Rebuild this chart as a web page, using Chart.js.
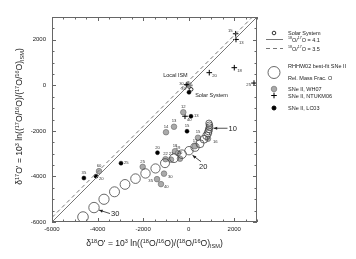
<!DOCTYPE html>
<html>
<head>
<meta charset="utf-8">
<script src="https://cdn.jsdelivr.net/npm/chart.js@4.4.1/dist/chart.umd.min.js"></script>
<style>
  html, body { margin: 0; padding: 0; background: #fff; }
</style>
</head>
<body>
<canvas id="chart" width="356" height="259"></canvas>
<script>
// tick labels
const xTickLabels = [-6000, -4000, -2000, 0, 2000];
const yTickLabels = [-6000, -4000, -2000, 0, 2000];

// 18O/17O reference lines (d18, d17)
const ratio41X = [-6000, 3000];
const ratio41Y = [-6000, 3000];
const ratio35X = [-6000, 2800];
const ratio35Y = [-5800, 3000];

// RHHW02 best-fit SNe II (open circles), rel. mass fraction of O
const rhhwX = [892, 914, 914, 892, 870, 848, 782, 673, 497, 278, 14, -293, -644, -1039, -1456, -1895, -2334, -2795, -3256, -3717, -4156, -4639];
const rhhwY = [-1665, -1752, -1840, -1928, -2015, -2103, -2212, -2366, -2563, -2716, -2869, -3023, -3198, -3417, -3649, -3868, -4096, -4350, -4674, -5002, -5366, -5782];
const rhhwOFrac = [0.064, 0.066, 0.068, 0.07, 0.072, 0.074, 0.076, 0.078, 0.08, 0.082, 0.084, 0.086, 0.088, 0.09, 0.092, 0.094, 0.096, 0.098, 0.1, 0.102, 0.104, 0.106];

// SNe II, WH07 (grey circles)
const wh07Mass = ['12', '13', '14', '15', '16', '17', '18', '19', '20', '21', '22', '25', '30', '35', '40', '60'];
const wh07X = [-236, -644, -995, 409, 848, 278, -600, -469, -381, -776, -1017, -2018, -1083, -1390, -1215, -3937];
const wh07Y = [-1183, -1818, -2059, -2300, -2344, -2672, -2891, -2979, -3220, -3263, -3242, -3579, -3877, -4118, -4337, -3767];

// SNe II, NTUKM06 (plus)
const ntukmMass = ['15', '13', '18', '20', '25', '30', '40'];
const ntukmX = [2064, 2078, 2003, 905, 2868, -80, -161];
const ntukmY = [2264, 2014, 775, 556, 100, 30, -1358];

// SNe II, LC03 (black dots)
const lc03Mass = ['13', '15', '20', '25', '20', '35', '30'];
const lc03X = [102, -73, -1369, -2971, -4068, -4600, 14];
const lc03Y = [-1358, -2015, -2957, -3417, -3986, -4070, -307];

// reference compositions
const solarX = [110];
const solarY = [-177];
const ismX = [0];
const ismY = [0];

const FONT = "'Liberation Sans', Arial, sans-serif";
const INK = '#222';

function pts(xs, ys) {
    return xs.map((x, i) => ({x: x, y: ys[i]}));
}

// draw text with superscript / subscript runs
function richWidth(ctx, runs, fs) {
    let w = 0;
    runs.forEach(([t, k]) => {
        ctx.font = (k === 'n' ? fs : fs * 0.65) + 'px ' + FONT;
        w += ctx.measureText(t).width;
    });
    return w;
}
function drawRich(ctx, runs, x, y, fs, align) {
    let w = richWidth(ctx, runs, fs);
    let cx = align === 'center' ? x - w / 2 : x;
    ctx.textBaseline = 'alphabetic';
    ctx.textAlign = 'left';
    runs.forEach(([t, k]) => {
        let size = k === 'n' ? fs : fs * 0.65;
        let dy = k === 'sup' ? -fs * 0.4 : (k === 'sub' ? fs * 0.22 : 0);
        ctx.font = size + 'px ' + FONT;
        ctx.fillText(t, cx, y + dy);
        cx += ctx.measureText(t).width;
    });
}

function arrow(ctx, x1, y1, x2, y2) {
    let a = Math.atan2(y2 - y1, x2 - x1);
    ctx.beginPath();
    ctx.moveTo(x1, y1);
    ctx.lineTo(x2, y2);
    ctx.stroke();
    ctx.beginPath();
    ctx.moveTo(x2, y2);
    ctx.lineTo(x2 - 4 * Math.cos(a - 0.4), y2 - 4 * Math.sin(a - 0.4));
    ctx.lineTo(x2 - 4 * Math.cos(a + 0.4), y2 - 4 * Math.sin(a + 0.4));
    ctx.closePath();
    ctx.fill();
}

const xTitle = [['δ', 'n'], ['18', 'sup'], ["O' = 10", 'n'], ['3', 'sup'], [' ln((', 'n'], ['18', 'sup'], ['O/', 'n'], ['16', 'sup'],
    ['O)/(', 'n'], ['18', 'sup'], ['O/', 'n'], ['16', 'sup'], ['O)', 'n'], ['ISM', 'sub'], [')', 'n']];
const yTitle = [['δ', 'n'], ['17', 'sup'], ["O' = 10", 'n'], ['3', 'sup'], [' ln((', 'n'], ['17', 'sup'], ['O/', 'n'], ['16', 'sup'],
    ['O)/(', 'n'], ['17', 'sup'], ['O/', 'n'], ['16', 'sup'], ['O)', 'n'], ['ISM', 'sub'], [')', 'n']];

// frame, inward ticks, titles, point labels, arrows and legend
const decor = {
    id: 'decor',
    afterDraw(chart) {
        const ctx = chart.ctx;
        const a = chart.chartArea;
        const xs = chart.scales.x, ys = chart.scales.y;
        ctx.save();
        ctx.strokeStyle = '#666';
        ctx.lineWidth = 1;
        ctx.strokeRect(a.left + 0.5, a.top + 0.5, a.right - a.left - 1, a.bottom - a.top - 1);
        ctx.beginPath();
        xs.ticks.forEach(t => {
            let p = Math.round(xs.getPixelForValue(t.value)) + 0.5;
            let len = xTickLabels.includes(t.value) ? 4 : 2.5;
            ctx.moveTo(p, a.bottom); ctx.lineTo(p, a.bottom - len);
            ctx.moveTo(p, a.top); ctx.lineTo(p, a.top + len);
        });
        ys.ticks.forEach(t => {
            let p = Math.round(ys.getPixelForValue(t.value)) + 0.5;
            let len = yTickLabels.includes(t.value) ? 4 : 2.5;
            ctx.moveTo(a.left, p); ctx.lineTo(a.left + len, p);
            ctx.moveTo(a.right, p); ctx.lineTo(a.right - len, p);
        });
        ctx.stroke();

        // axis titles
        ctx.fillStyle = INK;
        drawRich(ctx, xTitle, (a.left + a.right) / 2, 246, 8.6, 'center');
        ctx.save();
        ctx.translate(22, (a.top + a.bottom) / 2 - 3);
        ctx.rotate(-Math.PI / 2);
        drawRich(ctx, yTitle, 0, 0, 8.6, 'center');
        ctx.restore();

        // mass labels next to points
        ctx.font = '4.2px ' + FONT;
        ctx.fillStyle = '#333';
        const lab = (dsIndex, names, dx, dy, align, over) => {
            chart.getDatasetMeta(dsIndex).data.forEach((el, i) => {
                let o = (over && over[i]) || [dx, dy, align];
                ctx.textAlign = o[2];
                ctx.textBaseline = 'middle';
                ctx.fillText(names[i], el.x + o[0], el.y + o[1]);
            });
        };
        lab(3, wh07Mass, 0, -5.5, 'center', {4: [5, 3, 'left'], 12: [4, 3, 'left'], 13: [-4, 2, 'right'], 14: [3, 3, 'left']});
        lab(4, lc03Mass, 3, 0, 'left', {1: [0, -5, 'center'], 2: [0, -5, 'center'], 4: [3, 3, 'left'], 5: [0, -5, 'center'], 6: [-3, -3, 'right']});
        lab(5, ntukmMass, 3, 3, 'left', {0: [-3, -3, 'right'], 4: [-3, 2, 'right'], 5: [-3, -1, 'right'], 6: [2, 4, 'left']});

        ctx.font = '5.5px ' + FONT;
        ctx.fillStyle = INK;
        let ism = chart.getDatasetMeta(7).data[0];
        ctx.textAlign = 'right';
        ctx.fillText('Local ISM', ism.x - 1, ism.y - 10);
        let sol = chart.getDatasetMeta(6).data[0];
        ctx.textAlign = 'left';
        ctx.fillText('Solar System', sol.x + 4, sol.y + 6);

        // mass arrows on the RHHW02 track
        ctx.strokeStyle = INK;
        ctx.fillStyle = INK;
        ctx.lineWidth = 0.8;
        ctx.font = '7.5px ' + FONT;
        ctx.textBaseline = 'middle';
        ctx.textAlign = 'left';
        const track = chart.getDatasetMeta(2).data;
        let p10 = track[2], p20 = track[10], p30 = track[20];
        arrow(ctx, p10.x + 18, p10.y + 1, p10.x + 4, p10.y + 1);
        ctx.fillText('10', p10.x + 19, p10.y + 1.5);
        arrow(ctx, p20.x + 12, p20.y + 11, p20.x + 3.5, p20.y + 4.5);
        ctx.fillText('20', p20.x + 10, p20.y + 16.5);
        arrow(ctx, p30.x + 16, p30.y + 6, p30.x + 5, p30.y + 2.5);
        ctx.fillText('30', p30.x + 17, p30.y + 6.5);

        // legend
        const lx = 274, tx = 288;
        const h = Chart.helpers;
        const mk = (ds, y) => {
            h.drawPoint(ctx, {
                pointStyle: ds.pointStyle || 'circle', radius: ds.pointRadius,
                borderWidth: ds.borderWidth, rotation: 0
            }, lx, y);
        };
        const sets = chart.data.datasets;
        ctx.lineWidth = 0.8;
        ctx.strokeStyle = '#000'; ctx.fillStyle = '#fff';
        mk(sets[6], 33);
        ctx.fillStyle = INK;
        ctx.font = '5.5px ' + FONT;
        ctx.fillText('Solar System', tx, 33.5);
        ctx.strokeStyle = '#777';
        ctx.lineWidth = 1;
        ctx.beginPath(); ctx.moveTo(266, 39.5); ctx.lineTo(283, 39.5); ctx.stroke();
        ctx.setLineDash([4, 3]);
        ctx.beginPath(); ctx.moveTo(266, 48.5); ctx.lineTo(283, 48.5); ctx.stroke();
        ctx.setLineDash([]);
        ctx.fillStyle = INK;
        drawRich(ctx, [['18', 'sup'], ['O/', 'n'], ['17', 'sup'], ['O = 4.1', 'n']], tx, 41.5, 5.5, 'left');
        drawRich(ctx, [['18', 'sup'], ['O/', 'n'], ['17', 'sup'], ['O = 3.5', 'n']], tx, 50.5, 5.5, 'left');
        ctx.strokeStyle = '#444'; ctx.lineWidth = 0.8;
        ctx.beginPath(); ctx.arc(lx, 72.5, 6, 0, Math.PI * 2); ctx.stroke();
        ctx.font = '5.5px ' + FONT;
        ctx.textBaseline = 'middle';
        ctx.fillText('RHHW02 best-fit SNe II', tx, 66.5);
        ctx.fillText('Rel. Mass Frac. O', tx, 78.5);
        ctx.fillStyle = '#aaa'; ctx.strokeStyle = '#666'; ctx.lineWidth = 0.6;
        mk(sets[3], 89);
        ctx.strokeStyle = '#000'; ctx.lineWidth = 1;
        mk(sets[5], 95.5);
        ctx.fillStyle = '#000';
        mk(sets[4], 108);
        ctx.fillStyle = INK;
        ctx.fillText('SNe II, WH07', tx, 89.5);
        ctx.fillText('SNe II, NTUKM06', tx, 96);
        ctx.fillText('SNe II, LC03', tx, 108.5);
        ctx.restore();
    }
};

new Chart(document.getElementById('chart'), {
    type: 'scatter',
    data: {
        datasets: [
            {
                label: '18O/17O = 4.1', data: pts(ratio41X, ratio41Y), showLine: true,
                borderColor: '#777', borderWidth: 1, pointRadius: 0
            },
            {
                label: '18O/17O = 3.5', data: pts(ratio35X, ratio35Y), showLine: true,
                borderColor: '#777', borderWidth: 1, borderDash: [4, 3], pointRadius: 0
            },
            {
                label: 'RHHW02 best-fit SNe II', data: pts(rhhwX, rhhwY),
                pointRadius: rhhwOFrac.map(f => f * 50), backgroundColor: 'rgba(0,0,0,0)',
                borderColor: '#444', borderWidth: 0.8
            },
            {
                label: 'SNe II, WH07', data: pts(wh07X, wh07Y), pointRadius: 2.8,
                backgroundColor: '#aaa', borderColor: '#666', borderWidth: 0.6
            },
            {
                label: 'SNe II, LC03', data: pts(lc03X, lc03Y), pointRadius: 2,
                backgroundColor: '#000', borderColor: '#000', borderWidth: 0.5
            },
            {
                label: 'SNe II, NTUKM06', data: pts(ntukmX, ntukmY), pointStyle: 'cross', pointRadius: 2.8,
                borderColor: '#000', borderWidth: 1
            },
            {
                label: 'Solar System', data: pts(solarX, solarY), pointRadius: 1.8,
                backgroundColor: '#fff', borderColor: '#000', borderWidth: 0.8
            },
            {
                label: 'Local ISM', data: pts(ismX, ismY), pointStyle: 'star', pointRadius: 4,
                borderColor: '#888', borderWidth: 1.6
            }
        ]
    },
    options: {
        responsive: false,
        devicePixelRatio: 1,
        animation: false,
        layout: {padding: {top: 17, right: 99, left: 0, bottom: 0}},
        plugins: {legend: {display: false}, tooltip: {enabled: false}},
        scales: {
            x: {
                type: 'linear', min: -6000, max: 3000,
                ticks: {
                    stepSize: 500, autoSkip: false, maxRotation: 0, padding: 4,
                    color: INK, font: {size: 6, family: FONT},
                    callback: v => xTickLabels.includes(v) ? String(v) : ''
                },
                grid: {display: false, drawTicks: false},
                border: {display: false},
                afterFit: s => { s.height = 37; }
            },
            y: {
                type: 'linear', min: -6000, max: 3000,
                ticks: {
                    stepSize: 500, autoSkip: false, padding: 6,
                    color: INK, font: {size: 6, family: FONT},
                    callback: v => yTickLabels.includes(v) ? String(v) : ''
                },
                grid: {display: false, drawTicks: false},
                border: {display: false},
                afterFit: s => { s.width = 52; }
            }
        }
    },
    plugins: [decor]
});
</script>
</body>
</html>
